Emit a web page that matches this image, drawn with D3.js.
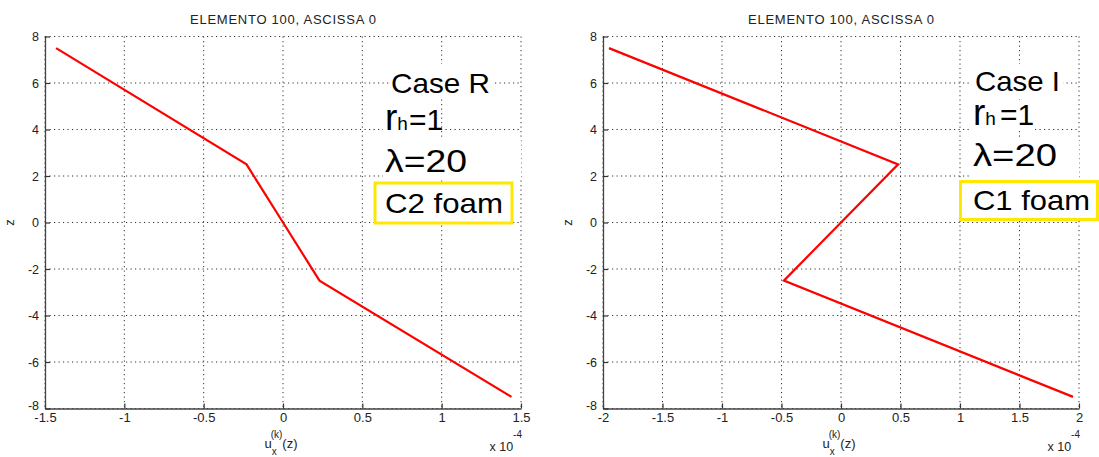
<!DOCTYPE html>
<html>
<head>
<meta charset="utf-8">
<script src="https://cdn.jsdelivr.net/npm/d3@7"></script>
<style>
  html, body { margin: 0; padding: 0; background: #fff; }
  svg { display: block; }
  text { font-family: "Liberation Sans", Arial, Helvetica, sans-serif; }
</style>
</head>
<body>
<svg id="chart" width="1099" height="457"></svg>
<script>
// Through-thickness displacement profiles (u_x in units of 1e-4)
const zNodes  = [7.5, 2.5, 0, -2.5, -7.5];
const uxCaseR = [-1.43, -0.23, 0, 0.23, 1.44];
const uxCaseI = [-1.95, 0.48, 0, -0.48, 1.95];

const zTicks  = [-8, -6, -4, -2, 0, 2, 4, 6, 8];
const xTicksR = [-1.5, -1, -0.5, 0, 0.5, 1, 1.5];
const xTicksI = [-2, -1.5, -1, -0.5, 0, 0.5, 1, 1.5, 2];

const titles       = ["ELEMENTO 100, ASCISSA 0", "ELEMENTO 100, ASCISSA 0"];
const caseNames    = ["Case R", "Case I"];
const rhValues     = [1, 1];
const lambdaValues = [20, 20];
const foamLabels   = ["C2 foam", "C1 foam"];

const svg = d3.select("#chart");
svg.append("rect").attr("width", 1099).attr("height", 457).attr("fill", "#fff");

const fmt = d => String(d);

const panels = [
  { x0: 45, x1: 521, ux: uxCaseR, xTicks: xTicksR, idx: 0,
    ann: { caseX: 391, caseY: 93, caseW: 99, rX: 385, rY: 130, rGap: 1,
           lamX: 385, lamY: 171.5, lamW: 82,
           box: [375, 183, 137, 40], foamX: 385, foamW: 118, foamY: 212.5,
           bg: [[389, 64, 106, 34], [383, 103, 56, 32], [383, 140, 138, 39]] } },
  { x0: 603, x1: 1079, ux: uxCaseI, xTicks: xTicksI, idx: 1,
    ann: { caseX: 975, caseY: 90.5, caseW: 85, rX: 973, rY: 125, rGap: 4,
           lamX: 973, lamY: 166, lamW: 84,
           box: [960.5, 181.5, 137, 38], foamX: 973, foamW: 117, foamY: 209.5,
           bg: [[972, 64, 91, 33], [971, 100, 62, 31], [971, 138, 108, 41]] } }
];

const yTop = 36.5, yBot = 408.5;

panels.forEach(p => {
  const x = d3.scaleLinear().domain(d3.extent(p.xTicks)).range([p.x0, p.x1]);
  const y = d3.scaleLinear().domain([-8, 8]).range([yBot, yTop]);
  const g = svg.append("g");

  // dotted grid
  g.append("g").selectAll("line").data(p.xTicks).join("line")
    .attr("x1", d => x(d)).attr("x2", d => x(d))
    .attr("y1", yTop).attr("y2", yBot)
    .attr("stroke", "#333").attr("stroke-width", 1)
    .attr("stroke-dasharray", "1.2,3.3");
  g.append("g").selectAll("line").data(zTicks).join("line")
    .attr("x1", p.x0).attr("x2", p.x1)
    .attr("y1", d => y(d)).attr("y2", d => y(d))
    .attr("stroke", "#333").attr("stroke-width", 1)
    .attr("stroke-dasharray", "1.2,3.3");

  // axes with inward ticks
  const ax = g.append("g").attr("transform", `translate(0,${yBot})`)
    .call(d3.axisBottom(x).tickValues(p.xTicks).tickFormat(fmt)
      .tickSizeInner(-5).tickSizeOuter(0).tickPadding(4.5));
  const ay = g.append("g").attr("transform", `translate(${p.x0},0)`)
    .call(d3.axisLeft(y).tickValues(zTicks).tickFormat(fmt)
      .tickSizeInner(-5).tickSizeOuter(0).tickPadding(6));
  [ax, ay].forEach(a => {
    a.select(".domain").attr("stroke", "#444").attr("stroke-width", 1.3);
    a.selectAll(".tick line").attr("stroke", "#333").attr("stroke-width", 1.2);
    a.selectAll(".tick text").attr("fill", "#222")
      .attr("font-family", "Liberation Sans, Arial, sans-serif");
  });
  ax.selectAll(".tick text").attr("font-size", 13);
  ay.selectAll(".tick text").attr("font-size", 12.5)
    .attr("dy", d => d === -8 ? "0.1em" : "0.32em");

  // title
  g.append("text").attr("x", (p.x0 + p.x1) / 2).attr("y", 24)
    .attr("text-anchor", "middle").attr("font-size", 13).attr("fill", "#222")
    .attr("textLength", 186).text(titles[p.idx]);

  // axis labels
  const xl = g.append("text").attr("x", (p.x0 + p.x1) / 2 - 2).attr("y", 448)
    .attr("text-anchor", "middle").attr("font-size", 13).attr("fill", "#222");
  xl.append("tspan").text("u");
  xl.append("tspan").attr("font-size", 10).attr("dy", 7).text("x");
  xl.append("tspan").attr("font-size", 10).attr("dx", -6).attr("dy", -17).text("(k)");
  xl.append("tspan").attr("dy", 10).text("(z)");

  const ex = g.append("text").attr("x", p.x1 + 1).attr("y", 451)
    .attr("text-anchor", "end").attr("font-size", 12.5).attr("fill", "#222");
  ex.append("tspan").text("x 10");
  ex.append("tspan").attr("font-size", 10).attr("dy", -13).text("-4");

  g.append("text").attr("transform", `translate(${p.x0 - 31},${y(0)}) rotate(-90)`)
    .attr("text-anchor", "middle").attr("font-size", 13).attr("fill", "#222").text("z");

  // displacement profile
  const pts = zNodes.map((z, i) => [p.ux[i], z]);
  g.append("path").datum(pts)
    .attr("d", d3.line().x(d => x(d[0])).y(d => y(d[1])))
    .attr("fill", "none").attr("stroke", "#ff0000").attr("stroke-width", 2.2)
    .attr("stroke-linejoin", "miter");

  // annotation block
  const a = p.ann;
  a.bg.forEach(r => g.append("rect").attr("x", r[0]).attr("y", r[1])
    .attr("width", r[2]).attr("height", r[3]).attr("fill", "#fff"));

  g.append("text").attr("x", a.caseX).attr("y", a.caseY)
    .attr("font-size", 28).attr("fill", "#000")
    .attr("textLength", a.caseW).attr("lengthAdjust", "spacingAndGlyphs")
    .text(caseNames[p.idx]);

  const rh = g.append("text").attr("x", a.rX).attr("y", a.rY).attr("fill", "#000");
  rh.append("tspan").attr("font-size", 37).text("r");
  rh.append("tspan").attr("font-size", 19).text("h");
  rh.append("tspan").attr("font-size", 30).attr("dx", a.rGap).text("=" + rhValues[p.idx]);

  g.append("text").attr("x", a.lamX).attr("y", a.lamY)
    .attr("font-size", 31).attr("fill", "#000")
    .attr("textLength", a.lamW).attr("lengthAdjust", "spacingAndGlyphs")
    .text("λ=" + lambdaValues[p.idx]);

  g.append("rect").attr("x", a.box[0]).attr("y", a.box[1])
    .attr("width", a.box[2]).attr("height", a.box[3])
    .attr("fill", "#fff").attr("stroke", "#ffe800").attr("stroke-width", 3);
  g.append("text").attr("x", a.foamX).attr("y", a.foamY)
    .attr("font-size", 28).attr("fill", "#000")
    .attr("textLength", a.foamW).attr("lengthAdjust", "spacingAndGlyphs")
    .text(foamLabels[p.idx]);
});
</script>
</body>
</html>
